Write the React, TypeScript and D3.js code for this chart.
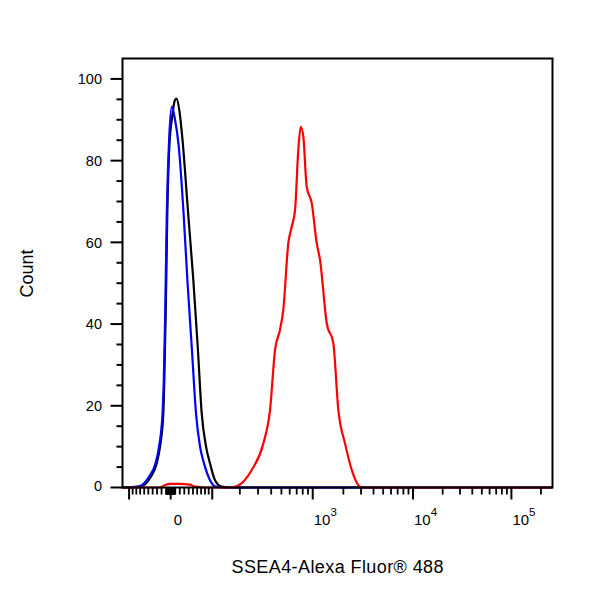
import React from "react";
import * as d3 from "d3";

// Logicle (biexponential) display parameters
const LOGICLE_T = 262144;
const LOGICLE_M = 4.2;
const LOGICLE_W = 0.31;

const X_MIN = -120;
const X_MAX = 262144;

// Histogram traces: fluorescence intensity vs. count
const blackX = [-120, -70.5, -44.5, -30.8, -23.3, -16.0, -13.9, -10.8, -7.3, -2.9, 4.5, 8.4, 12.8, 19.4, 26.1, 38.1, 50.8, 61.5, 71.5, 82.8, 93.7, 108.2, 129.7, 159, 262144];
const blackY = [0, 0.2, 2.6, 5.9, 10.0, 18.1, 26.3, 42.6, 67.1, 83.4, 91.6, 94.5, 95.2, 92, 85, 68, 50.8, 34.4, 18.1, 10.0, 5.9, 1.8, 0.2, 0, 0];

const blueX = [-120, -75.6, -48.4, -33.4, -25.5, -17.8, -15.0, -11.9, -8.4, -4.0, 2.3, 9.5, 17.2, 28.2, 37.0, 47.1, 57.3, 67.2, 77.5, 93.7, 111.2, 141, 262144];
const blueY = [0, 0.2, 2.6, 5.9, 10.0, 18.1, 26.3, 42.6, 67.1, 83.4, 93.2, 90, 84, 67.5, 50.8, 34.4, 18.1, 10.0, 5.9, 1.8, 0.2, 0, 0];

const redX = [-120, -23.3, -12.3, -1.4, 20.4, 42.3, 55.7, 79, 159, 186, 261, 337, 390, 435, 485, 521, 582, 627, 675, 725, 765, 811, 874, 978, 1094, 1178, 1371, 1591, 1783, 2077, 2422, 2930, 3300, 262144];
const redY = [0, 0, 0.6, 0.9, 0.9, 0.7, 0.2, 0, 0, 0.3, 4.3, 10.8, 19.0, 33.7, 38.6, 43.5, 59.8, 63.8, 67.9, 82.6, 88.3, 85.9, 73.6, 69.6, 59.8, 55.7, 40.2, 35.3, 19.0, 10.8, 4.3, 0.2, 0, 0];

// Axis ticks
const xMajorTicks = [-100, 0, 100, 1000, 10000, 100000];
const xMinorMultiples = [2, 3, 4, 5, 6, 7, 8, 9];
const xMinorDecades = [1, 10, 100, 1000, 10000, 100000];
const xTickLabelValues = [0, 1000, 10000, 100000];
const xTickLabelBases = ["0", "10", "10", "10"];
const xTickLabelExps = ["", "3", "4", "5"];

const yMajorTicks = [0, 20, 40, 60, 80, 100];
const yMinorTicks = [5, 10, 15, 25, 30, 35, 45, 50, 55, 65, 70, 75, 85, 90, 95];

const xTitle = "SSEA4-Alexa Fluor\u00ae 488";
const yTitle = "Count";

// Logicle helpers
function solveP(w: number) {
  let lo = 1.000001;
  let hi = 50;
  for (let i = 0; i < 100; i++) {
    const mid = (lo + hi) / 2;
    const f = (2 * mid * Math.log10(mid)) / (mid + 1);
    if (f < w) lo = mid;
    else hi = mid;
  }
  return (lo + hi) / 2;
}
const P = solveP(LOGICLE_W);
const A = LOGICLE_T * Math.pow(10, -(LOGICLE_M - LOGICLE_W));

function logicleData(u: number) {
  const s = u < 0 ? -1 : 1;
  const v = Math.abs(u);
  return s * A * (Math.pow(10, v) - P * P * Math.pow(10, -v / P) + P * P - 1);
}
function logicleDisplay(x: number) {
  let lo = -4;
  let hi = 8;
  for (let i = 0; i < 80; i++) {
    const mid = (lo + hi) / 2;
    if (logicleData(mid) < x) lo = mid;
    else hi = mid;
  }
  return (lo + hi) / 2;
}

const FONT = "'Liberation Sans', Arial, Helvetica, sans-serif";

export default function App() {
  const left = 122.5;
  const right = 552.5;
  const top = 58.5;
  const bottom = 487.5;

  const xLin = d3.scaleLinear().domain([logicleDisplay(X_MIN), logicleDisplay(X_MAX)]).range([left, right]);
  const x = (v: number) => xLin(logicleDisplay(v));
  const y = d3.scaleLinear().domain([0, 105]).range([bottom, top]);

  const line = d3
    .line<[number, number]>()
    .x((d) => x(d[0]))
    .y((d) => y(d[1]))
    .curve(d3.curveMonotoneX);

  const zip = (xs: number[], ys: number[]) => xs.map((v, i) => [v, ys[i]] as [number, number]);

  const xMinor: number[] = [];
  xMinorDecades.forEach((dec) => {
    xMinorMultiples.forEach((m) => {
      const v = m * dec;
      if (v <= X_MAX) xMinor.push(v);
      if (-v >= X_MIN && dec < 100) xMinor.push(-v);
    });
  });
  [-1, 1, -10, 10].forEach((v) => xMinor.push(v));

  return (
    <svg
      width={600}
      height={600}
      style={{ position: "absolute", left: 0, top: 0, background: "#fff" }}
      fontFamily={FONT}
    >
      <rect x={0} y={0} width={600} height={600} fill="#fff" />

      {/* curves */}
      <path d={line(zip(blackX, blackY)) || ""} fill="none" stroke="#000" strokeWidth={2.2} strokeLinejoin="round" />
      <path d={line(zip(blueX, blueY)) || ""} fill="none" stroke="#0000ff" strokeWidth={2.2} strokeLinejoin="round" />
      <path d={line(zip(redX, redY)) || ""} fill="none" stroke="#ff0000" strokeWidth={2.2} strokeLinejoin="round" />

      {/* frame */}
      <rect x={left} y={top} width={right - left} height={bottom - top} fill="none" stroke="#000" strokeWidth={2} />

      {/* y axis ticks */}
      {yMajorTicks.map((t) => (
        <g key={"ym" + t}>
          <line x1={left - 12} x2={left} y1={y(t)} y2={y(t)} stroke="#000" strokeWidth={2} />
          <text x={102} y={y(t) - (t === 0 ? 2 : 0)} dy="0.36em" textAnchor="end" fontSize={14.5} fill="#000">
            {t}
          </text>
        </g>
      ))}
      {yMinorTicks.map((t) => (
        <line key={"yn" + t} x1={left - 6} x2={left} y1={y(t)} y2={y(t)} stroke="#000" strokeWidth={2} />
      ))}

      {/* x axis ticks */}
      {xMajorTicks.map((t) => (
        <line key={"xm" + t} x1={x(t)} x2={x(t)} y1={bottom} y2={bottom + 12} stroke="#000" strokeWidth={2} />
      ))}
      {xMinor.map((t) => (
        <line key={"xn" + t} x1={x(t)} x2={x(t)} y1={bottom} y2={bottom + 7} stroke="#000" strokeWidth={1.8} />
      ))}
      {xTickLabelValues.map((t, i) => (
        <text key={"xl" + t} x={x(t) + (t === 0 ? 3 : 1)} y={525} fontSize={15} fill="#000">
          {xTickLabelBases[i]}
          {xTickLabelExps[i] ? (
            <tspan dy={-9} fontSize={11.5}>
              {xTickLabelExps[i]}
            </tspan>
          ) : null}
        </text>
      ))}

      {/* titles */}
      <text
        x={337.5}
        y={573}
        textAnchor="middle"
        fontSize={18}
        textLength={212}
        lengthAdjust="spacing"
        fill="#000"
      >
        {xTitle}
      </text>
      <text transform="translate(33,273.5) rotate(-90)" textAnchor="middle" fontSize={18} fill="#000">
        {yTitle}
      </text>
    </svg>
  );
}
